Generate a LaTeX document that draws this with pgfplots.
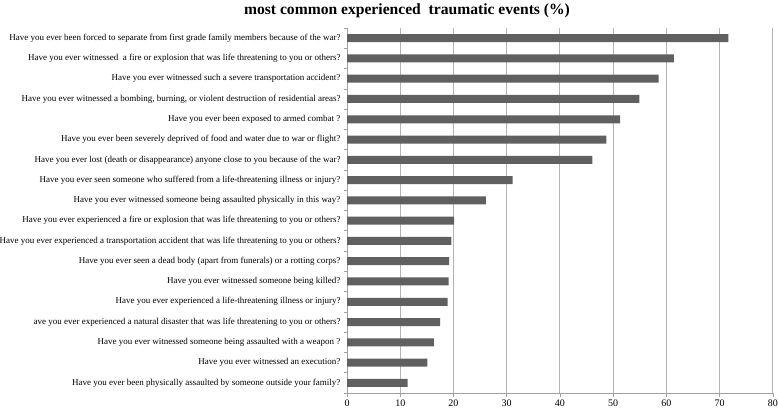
\documentclass[border=0pt]{standalone}
\usepackage{pgfplots}
\pgfplotsset{compat=1.18}
\usepackage{fontspec}
\setmainfont{Liberation Serif}
\definecolor{barc}{HTML}{606060}
\definecolor{gridc}{HTML}{B4B4B4}
\definecolor{axc}{HTML}{A0A0A0}
\begin{document}
\begin{tikzpicture}
\useasboundingbox (0,0) rectangle (778pt,407pt);
\begin{axis}[
  at={(347pt,14pt)}, anchor=south west,
  scale only axis, width=426pt, height=365pt,
  xbar, bar width=8pt,
  xmin=0, xmax=80, ymin=0.5, ymax=18.5,
  y dir=reverse,
  axis x line*=bottom, axis y line*=left,
  axis line style={axc, line width=0.8pt},
  xtick={0,10,...,80},
  xmajorgrids, major grid style={gridc, line width=1pt},
  ytick={1,...,18},
  minor ytick={0.5,1.5,...,18.5},
  minor xtick={0,10,...,80},
  tick align=outside,
  major tick length=0pt, minor tick length=3.5pt,
  tick style={axc, line width=0.6pt},
  /pgf/number format/assume math mode=true,
  xticklabel style={font=\fontsize{10}{11}\selectfont, yshift=-3pt},
  yticklabel style={font=\fontsize{9}{10}\selectfont, xshift=-3pt},
  yticklabels={
    {Have you ever been forced to separate from first grade family members because of the war?},
    {Have you ever witnessed\ \ a fire or explosion that was life threatening to you or others?},
    {Have you ever witnessed such a severe transportation accident?},
    {Have you ever witnessed a bombing, burning, or violent destruction of residential areas?},
    {Have you ever been exposed to armed combat ?},
    {Have you ever been severely deprived of food and water due to war or flight?},
    {Have you ever lost (death or disappearance) anyone close to you because of the war?},
    {Have you ever seen someone who suffered from a life-threatening illness or injury?},
    {Have you ever witnessed someone being assaulted physically in this way?},
    {Have you ever experienced a fire or explosion that was life threatening to you or others?},
    {Have you ever experienced a transportation accident that was life threatening to you or others?},
    {Have you ever seen a dead body (apart from funerals) or a rotting corps?},
    {Have you ever witnessed someone being killed?},
    {Have you ever experienced a life-threatening illness or injury?},
    {ave you ever experienced a natural disaster that was life threatening to you or others?},
    {Have you ever witnessed someone being assaulted with a weapon ?},
    {Have you ever witnessed an execution?},
    {Have you ever been physically assaulted by someone outside your family?}
  },
]
\addplot[fill=barc, draw=none] coordinates {
  (71.6,1) (61.4,2) (58.5,3) (54.9,4) (51.3,5) (48.7,6) (46.1,7) (31.1,8) (26.1,9)
  (20.1,10) (19.6,11) (19.2,12) (19.1,13) (18.9,14) (17.5,15) (16.3,16) (15.1,17) (11.4,18)
};
\end{axis}
\node[font=\fontsize{15.6}{17}\selectfont\bfseries] at (407pt,396pt) {most common experienced\ \ traumatic events (\%)};
\end{tikzpicture}
\end{document}
